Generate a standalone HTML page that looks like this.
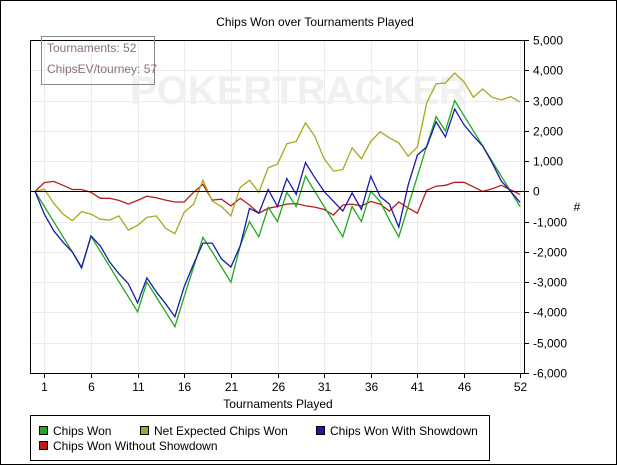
<!DOCTYPE html>
<html><head><meta charset="utf-8"><style>
body{margin:0;background:#fff}
svg{display:block;font-family:"Liberation Sans",Arial,sans-serif}
</style></head><body>
<svg id="chart" width="617" height="465" viewBox="0 0 617 465">
<rect x="0.5" y="0.5" width="616" height="464" fill="#fff" stroke="#000"/>
<text x="315" y="26" font-size="12" text-anchor="middle">Chips Won over Tournaments Played</text>
<g id="grid"></g>
<text x="130" y="104" font-size="40" font-weight="bold" fill="#f0f0f0">POKERTRACKER</text>
<g id="series"></g>
<g id="axes"></g>
<g>
<rect x="41.5" y="36.5" width="113" height="48" fill="none" stroke="#888"/>
<text x="47" y="52" font-size="12" fill="#8a7080">Tournaments: 52</text>
<text x="47" y="73" font-size="12" fill="#8a7080">ChipsEV/tourney: 57</text>
</g>
<text x="278" y="408" font-size="12" text-anchor="middle">Tournaments Played</text>
<text x="577" y="211" font-size="12" text-anchor="middle">#</text>
<g>
<rect x="30.5" y="415.5" width="459" height="45" fill="#fff" stroke="#000"/>
<g><rect x="39.5" y="426.5" width="8" height="8" fill="#22a822" stroke="#000"/><text x="53" y="435" font-size="12">Chips Won</text></g>
<g><rect x="140.5" y="426.5" width="8" height="8" fill="#a8a81e" stroke="#000"/><text x="154" y="435" font-size="12">Net Expected Chips Won</text></g>
<g><rect x="316.5" y="426.5" width="8" height="8" fill="#1a1aa8" stroke="#000"/><text x="330" y="435" font-size="12">Chips Won With Showdown</text></g>
<g><rect x="39.5" y="441.5" width="8" height="8" fill="#b81c1c" stroke="#000"/><text x="53" y="450" font-size="12">Chips Won Without Showdown</text></g>
</g>
</svg>
<script>
const xTicks=[1,6,11,16,21,26,31,36,41,46,52];
const yTicks=[5000,4000,3000,2000,1000,0,-1000,-2000,-3000,-4000,-5000,-6000];
const chipsWon=[0,-500,-1000,-1500,-2000,-2500,-1480,-1980,-2480,-2980,-3480,-3980,-3000,-3490,-3980,-4470,-3480,-2500,-1520,-2000,-2500,-3000,-1800,-1000,-1500,-530,-1000,-30,-500,500,0,-500,-1000,-1500,-500,-1000,0,-330,-950,-1500,-500,500,1500,2470,2000,3000,2500,2000,1500,1000,500,0,-500];
const netExpected=[0,70,-390,-750,-970,-670,-750,-920,-950,-810,-1280,-1120,-860,-810,-1220,-1400,-690,-420,370,-320,-500,-810,130,370,-30,780,900,1570,1650,2260,1820,1080,670,720,1440,1080,1650,1970,1770,1600,1160,1470,2920,3550,3580,3910,3620,3110,3380,3110,3020,3130,2950];
const withShowdown=[0,-750,-1300,-1680,-2000,-2530,-1470,-1800,-2330,-2720,-3050,-3680,-2860,-3320,-3710,-4140,-3150,-2400,-1710,-1710,-2230,-2500,-1800,-560,-720,60,-500,420,-100,950,450,0,-330,-650,-50,-600,500,-170,-420,-1180,200,1200,1470,2300,1800,2720,2200,1830,1500,950,340,0,-360];
const withoutShowdown=[0,290,330,200,60,60,-30,-230,-230,-300,-420,-300,-160,-210,-290,-350,-350,-30,230,-290,-260,-480,-230,-450,-720,-560,-500,-420,-400,-480,-520,-600,-780,-450,-420,-480,-330,-420,-650,-350,-550,-720,40,170,200,300,300,150,0,80,200,50,-100];
const L=30,R=524,T=40,B=373,X0=35,X1=520;
const xs=i=>X0+(X1-X0)*i/52;
const ys=v=>T+(5000-v)/11000*(B-T);
const NS="http://www.w3.org/2000/svg";
function mk(tag,attrs,parent){const e=document.createElementNS(NS,tag);for(const k in attrs)e.setAttribute(k,attrs[k]);parent.appendChild(e);return e;}
const grid=document.getElementById('grid'),axes=document.getElementById('axes'),ser=document.getElementById('series');
yTicks.forEach(v=>{const y=Math.round(ys(v))+0.5;
 const g=mk('line',{x1:L,x2:R,y1:y,y2:y,stroke:'#ebebeb'},grid);
 
 
 const t=mk('line',{x1:R,x2:R+5,y1:y,y2:y,stroke:'#000'},axes);
 
 
 const lb=mk('text',{x:R+9,y:y+4,'font-size':12},axes);lb.textContent=v.toLocaleString('en-US');
 
 
});
xTicks.forEach(n=>{const x=Math.round(xs(n))+0.5;
 const g=mk('line',{x1:x,x2:x,y1:T,y2:B,stroke:'#ebebeb'},grid);
 
 
 const t=mk('line',{x1:x,x2:x,y1:B,y2:B+5,stroke:'#000'},axes);
 
 
 const lb=mk('text',{x:x,y:391,'font-size':12,'text-anchor':'middle'},axes);lb.textContent=n;
 
 
});
const box=mk('rect',{x:L+0.5,y:T+0.5,width:R-L,height:B-T,fill:'none',stroke:'#000'},axes);


const z=Math.round(ys(0))+0.5;
const zl=mk('line',{x1:L,x2:R,y1:z,y2:z,stroke:'#000'},axes);


[[withoutShowdown,'#b81c1c','without-showdown-line'],[netExpected,'#a8a81e','net-expected-line'],[chipsWon,'#22a822','chips-won-line'],[withShowdown,'#1a1aa8','with-showdown-line']].forEach(([d,c,n])=>{
 const p=mk('polyline',{points:d.map((v,i)=>xs(i).toFixed(1)+','+ys(v).toFixed(1)).join(' '),fill:'none',stroke:c,'stroke-width':1.3},ser);
 
 
});
</script>
</body></html>
